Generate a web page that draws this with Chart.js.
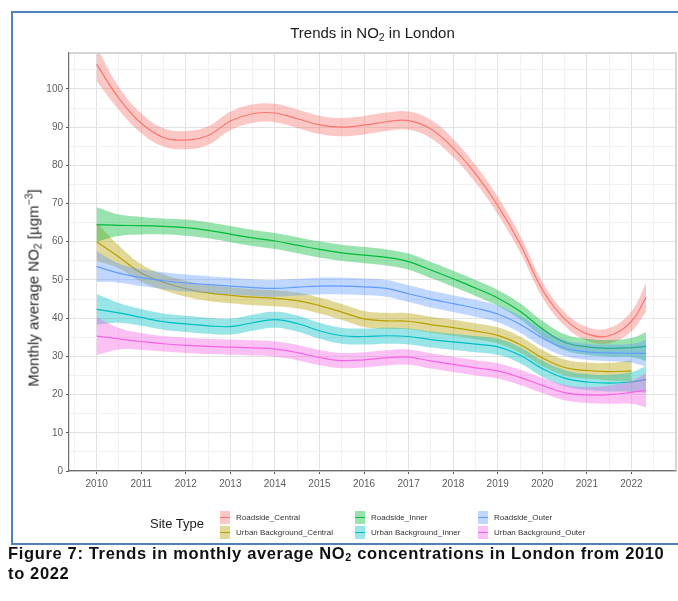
<!DOCTYPE html>
<html>
<head>
<meta charset="utf-8">
<script src="https://cdn.jsdelivr.net/npm/chart.js@4.4.1/dist/chart.umd.min.js"></script>
<style>
  html, body { margin: 0; padding: 0; background: #fff; }
  #wrap { position: relative; width: 678px; height: 601px; overflow: hidden;
          font-family: 'Liberation Sans', Arial, sans-serif; color: #1a1a1a; }
  #frame { position: absolute; left: 11px; top: 11px; width: 720px; height: 534px;
           border: 2px solid #4f81bd; box-sizing: border-box; }
  canvas { position: absolute; left: 0; top: 0; }
  #title { position: absolute; left: 69px; width: 607px; top: 24px; text-align: center;
           font-size: 15px; line-height: 18px; }
  #title sub, #ytitle sub { font-size: 0.7em; vertical-align: -0.25em; line-height: 0; }
  #ytitle sup { font-size: 0.7em; vertical-align: 0.55em; line-height: 0; }
  #ytitle { position: absolute; left: 33px; top: 288px; white-space: nowrap; font-size: 15px;
            font-weight: normal; color: #2a2a2a;
            transform: translate(-50%, -50%) rotate(-90deg); }
  .lg-title { position: absolute; left: 150px; top: 516px; font-size: 13px; line-height: 16px; }
  .lg-key { position: absolute; width: 10px; height: 13px; }
  .lg-key i { position: absolute; left: 0; right: 0; top: 6px; height: 1px; }
  .lg-lab { position: absolute; font-size: 8px; line-height: 10px; color: #333; white-space: nowrap; }
  #caption { position: absolute; left: 8px; top: 543px; font-size: 16.5px; line-height: 20px;
             letter-spacing: 0.65px; font-weight: bold; white-space: nowrap; color: #111; }
  #caption sub { font-size: 0.65em; vertical-align: -0.15em; line-height: 0; }
</style>
</head>
<body>
<div id="wrap">
  <div id="frame"></div>
  <canvas id="chart" width="678" height="601"></canvas>
  <div id="title">Trends in NO<sub>2</sub> in London</div>
  <div id="ytitle">Monthly average NO<sub>2</sub> [µgm<sup>−3</sup>]</div>
  <div id="legend"></div>
  <div id="caption">Figure 7: Trends in monthly average NO<sub>2</sub> concentrations in London from 2010<br>to 2022</div>
</div>
<script>
// Sample positions (decimal year) of the smoothed trend for every site type
const sampleYears = [2010, 2010.5, 2011, 2011.5, 2012, 2012.5, 2013, 2013.5, 2014, 2014.5,
  2015, 2015.5, 2016, 2016.5, 2017, 2017.5, 2018, 2018.5, 2019, 2019.5,
  2020, 2020.5, 2021, 2021.5, 2022, 2022.33];

// Smoothed monthly average NO2 (µg/m3) and the half-width of its confidence band
const roadsideCentral = [106.5, 97.5, 91.0, 87.3, 86.6, 87.8, 91.6, 93.5, 93.7, 92.2,
  90.6, 90.0, 90.5, 91.4, 91.7, 89.5, 84.5, 77.8, 69.5, 59.5,
  47.5, 39.8, 35.9, 35.4, 39.2, 45.5];
const roadsideCentralSe = [4.5, 3.0, 2.6, 2.4, 2.4, 2.4, 2.4, 2.4, 2.4, 2.4,
  2.4, 2.4, 2.4, 2.4, 2.4, 2.4, 2.4, 2.3, 2.3, 2.2,
  2.0, 1.8, 1.8, 2.0, 2.6, 3.8];

const urbanBackgroundCentral = [60.0, 56.0, 51.8, 49.4, 47.7, 46.6, 46.0, 45.5, 45.2, 44.6,
  43.3, 41.6, 39.8, 39.3, 39.2, 38.3, 37.5, 36.6, 35.5, 33.1,
  29.6, 27.1, 26.3, 26.0, 26.2, null];
const urbanBackgroundCentralSe = [5.0, 3.0, 2.3, 2.1, 2.1, 2.1, 2.1, 2.1, 2.1, 2.1,
  2.1, 2.1, 2.1, 2.1, 2.1, 2.1, 2.1, 2.1, 2.1, 2.1,
  2.1, 2.1, 2.1, 2.3, 2.8, null];

const roadsideInner = [64.5, 64.3, 64.2, 64.0, 63.7, 63.0, 62.0, 61.0, 60.2, 59.1,
  58.0, 57.1, 56.5, 55.9, 54.8, 52.6, 50.3, 47.9, 45.3, 41.8,
  37.2, 33.7, 32.5, 32.1, 32.3, 32.6];
const roadsideInnerSe = [4.5, 2.8, 2.3, 2.1, 2.1, 2.1, 2.1, 2.1, 2.1, 2.1,
  2.1, 2.1, 2.1, 2.1, 2.1, 2.1, 2.1, 2.1, 2.1, 2.1,
  2.1, 2.1, 2.1, 2.2, 2.5, 3.8];

const urbanBackgroundInner = [42.3, 41.4, 40.2, 39.1, 38.5, 38.0, 37.8, 38.8, 39.6, 38.6,
  36.7, 35.4, 35.2, 35.4, 35.2, 34.4, 33.8, 33.2, 32.5, 30.3,
  26.8, 24.3, 23.3, 23.0, 23.3, 24.0];
const urbanBackgroundInnerSe = [4.0, 2.6, 2.2, 2.1, 2.1, 2.1, 2.1, 2.1, 2.1, 2.1,
  2.1, 2.1, 2.1, 2.1, 2.1, 2.1, 2.1, 2.1, 2.1, 2.1,
  2.1, 2.1, 2.1, 2.2, 2.6, 3.5];

const roadsideOuter = [53.5, 51.8, 50.6, 49.8, 49.2, 48.8, 48.4, 48.0, 47.8, 48.1,
  48.4, 48.4, 48.2, 47.8, 46.4, 45.0, 43.8, 42.6, 41.1, 38.4,
  34.8, 32.2, 31.2, 30.9, 30.8, 30.8];
const roadsideOuterSe = [4.0, 2.5, 2.2, 2.2, 2.2, 2.2, 2.2, 2.2, 2.2, 2.2,
  2.2, 2.2, 2.2, 2.2, 2.2, 2.2, 2.2, 2.2, 2.2, 2.2,
  2.2, 2.1, 2.1, 2.2, 2.5, 3.5];

const urbanBackgroundOuter = [35.3, 34.6, 33.9, 33.3, 32.9, 32.6, 32.4, 32.2, 31.9, 31.0,
  29.7, 28.9, 29.1, 29.6, 29.8, 28.8, 27.9, 27.0, 26.2, 24.5,
  22.4, 20.5, 19.9, 20.0, 20.6, 21.2];
const urbanBackgroundOuterSe = [5.0, 2.8, 2.2, 2.0, 2.0, 2.0, 2.0, 2.0, 2.0, 2.0,
  2.0, 2.0, 2.0, 2.0, 2.0, 2.0, 2.0, 2.0, 2.0, 2.0,
  2.0, 2.0, 2.1, 2.4, 3.0, 4.5];

// Legend / series order and hue palette
const siteTypes = ['Roadside_Central', 'Urban Background_Central', 'Roadside_Inner',
  'Urban Background_Inner', 'Roadside_Outer', 'Urban Background_Outer'];
const siteColors = ['#F8766D', '#B79F00', '#00BA38', '#00BFC4', '#619CFF', '#F564E3'];
const siteValues = [roadsideCentral, urbanBackgroundCentral, roadsideInner,
  urbanBackgroundInner, roadsideOuter, urbanBackgroundOuter];
const siteSe = [roadsideCentralSe, urbanBackgroundCentralSe, roadsideInnerSe,
  urbanBackgroundInnerSe, roadsideOuterSe, urbanBackgroundOuterSe];

// Axis ticks
const xTickLabels = ['2010', '2011', '2012', '2013', '2014', '2015', '2016',
  '2017', '2018', '2019', '2020', '2021', '2022'];
const yTickLabels = ['0', '10', '20', '30', '40', '50', '60', '70', '80', '90', '100'];
const xRange = [2009.38, 2023.0];
const yRange = [0, 109.4];

function rgba(hex, a) {
  const n = parseInt(hex.slice(1), 16);
  return `rgba(${(n >> 16) & 255},${(n >> 8) & 255},${n & 255},${a})`;
}

// Build datasets: for each site a centre line, upper and lower band edges.
// Drawn last-first, so the first site in the list ends up underneath.
const datasets = [];
for (let s = siteTypes.length - 1; s >= 0; s--) {
  const vals = siteValues[s], se = siteSe[s];
  const pts = (f) => sampleYears.map((yr, i) =>
    ({ x: yr, y: vals[i] == null ? null : f(vals[i], se[i]) }));
  const base = datasets.length;
  datasets.push({ label: siteTypes[s], data: pts((v) => v), borderColor: siteColors[s],
    borderWidth: 1.2, fill: false });
  datasets.push({ label: siteTypes[s] + ' upper', data: pts((v, e) => v + e),
    borderWidth: 0, borderColor: 'transparent', backgroundColor: rgba(siteColors[s], 0.4),
    fill: { target: base + 2 } });
  datasets.push({ label: siteTypes[s] + ' lower', data: pts((v, e) => v - e),
    borderWidth: 0, borderColor: 'transparent', fill: false });
}

const FONT = "'Liberation Sans', Arial, sans-serif";
const xMajor = xTickLabels.map(Number);
const yMajor = yTickLabels.map(Number);
const xGrid = [];
for (let v = xMajor[0] - 0.5; v <= xMajor[xMajor.length - 1] + 0.5 + 1e-9; v += 0.5) xGrid.push(v);
const yGrid = [];
for (let v = 0; v <= yRange[1]; v += 5) yGrid.push(v);

const isMajor = (list, v) => list.some((m) => Math.abs(m - v) < 1e-6);

// Light frame along the top and right edges of the panel
const panelFrame = {
  id: 'panelFrame',
  afterDatasetsDraw(chart) {
    const { ctx, chartArea: a } = chart;
    ctx.save();
    ctx.strokeStyle = '#c9c9c9';
    ctx.lineWidth = 1.5;
    ctx.beginPath();
    ctx.moveTo(a.left, a.top);
    ctx.lineTo(a.right, a.top);
    ctx.lineTo(a.right, a.bottom);
    ctx.stroke();
    ctx.restore();
  }
};

new Chart(document.getElementById('chart').getContext('2d'), {
  type: 'line',
  data: { datasets },
  options: {
    responsive: false,
    animation: false,
    layout: { padding: { top: 53, right: 2, left: 0, bottom: 0 } },
    plugins: { legend: { display: false }, tooltip: { enabled: false }, title: { display: false } },
    elements: { point: { radius: 0 }, line: { tension: 0.4 } },
    scales: {
      x: {
        type: 'linear', min: xRange[0], max: xRange[1],
        afterFit(s) { s.height = 130; },
        afterBuildTicks(s) { s.ticks = xGrid.map((v) => ({ value: v })); },
        ticks: {
          autoSkip: false, maxRotation: 0, padding: 4, color: '#5e5e5e',
          font: { family: FONT, size: 10 },
          callback: (v) => { const i = xMajor.findIndex((m) => Math.abs(m - v) < 1e-6); return i >= 0 ? xTickLabels[i] : ''; }
        },
        grid: {
          color: (c) => isMajor(xMajor, c.tick.value) ? '#e2e2e2' : '#f1f1f1',
          tickColor: (c) => isMajor(xMajor, c.tick.value) ? '#555' : 'rgba(0,0,0,0)',
          tickLength: 3, lineWidth: 1
        },
        border: { color: '#6e6e6e', width: 1.2 }
      },
      y: {
        min: yRange[0], max: yRange[1],
        afterFit(s) { s.width = 69; },
        afterBuildTicks(s) { s.ticks = yGrid.map((v) => ({ value: v })); },
        ticks: {
          autoSkip: false, padding: 3, color: '#5e5e5e',
          font: { family: FONT, size: 10 },
          callback: (v) => { const i = yMajor.findIndex((m) => Math.abs(m - v) < 1e-6); return i >= 0 ? yTickLabels[i] : ''; }
        },
        grid: {
          color: (c) => isMajor(yMajor, c.tick.value) ? '#e2e2e2' : '#f1f1f1',
          tickColor: (c) => isMajor(yMajor, c.tick.value) ? '#555' : 'rgba(0,0,0,0)',
          tickLength: 3, lineWidth: 1
        },
        border: { color: '#6e6e6e', width: 1.2 }
      }
    }
  },
  plugins: [panelFrame]
});

// Legend: "Site Type" followed by a 2-row, 3-column key grid
const legend = document.getElementById('legend');
const lgTitle = document.createElement('div');
lgTitle.className = 'lg-title';
lgTitle.textContent = 'Site Type';
legend.appendChild(lgTitle);
const colKeyX = [220, 355, 478];
const rowTop = [511, 526];
siteTypes.forEach((name, i) => {
  const col = Math.floor(i / 2), row = i % 2;
  const key = document.createElement('div');
  key.className = 'lg-key';
  key.style.left = colKeyX[col] + 'px';
  key.style.top = rowTop[row] + 'px';
  key.style.background = rgba(siteColors[i], 0.4);
  const ln = document.createElement('i');
  ln.style.background = siteColors[i];
  key.appendChild(ln);
  legend.appendChild(key);
  const lab = document.createElement('div');
  lab.className = 'lg-lab';
  lab.style.left = (colKeyX[col] + 16) + 'px';
  lab.style.top = (rowTop[row] + 1.5) + 'px';
  lab.textContent = name;
  legend.appendChild(lab);
});
</script>
</body>
</html>
